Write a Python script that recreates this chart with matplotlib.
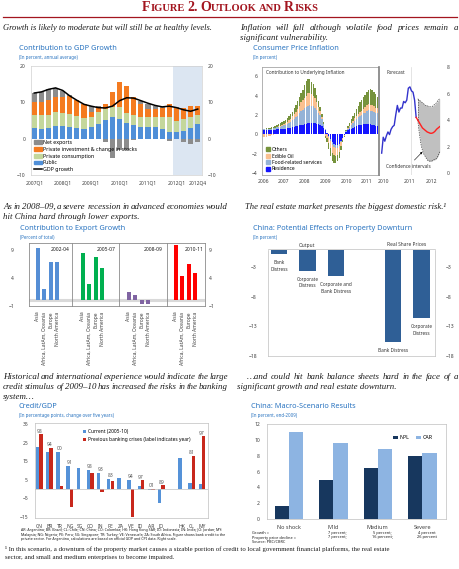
import matplotlib
matplotlib.use("Agg")
import matplotlib.pyplot as plt
import numpy as np
from matplotlib.patches import Patch
from matplotlib.lines import Line2D

# ---------------- data ----------------
# Contribution to GDP growth (2007Q1 .. 2012Q4)
gdp_public = [2.9, 2.7, 3.0, 3.5, 3.5, 3.3, 3.0, 2.7, 3.4, 4.2, 5.2, 5.9,
              5.5, 4.5, 3.8, 3.4, 3.4, 3.2, 2.7, 1.8, 1.8, 2.3, 3.1, 4.1]
gdp_consumption = [3.6, 3.8, 3.5, 3.8, 3.7, 3.5, 3.4, 3.1, 2.5, 3.2, 3.0, 2.9,
                   3.3, 2.7, 2.7, 2.7, 2.7, 2.9, 3.4, 4.3, 3.2, 3.2, 3.0, 2.6]
gdp_investment = [3.7, 3.7, 4.3, 4.2, 4.3, 4.9, 4.2, 3.7, 1.4, 1.2, 1.3, 4.1,
                  6.7, 7.3, 5.0, 3.4, 2.0, 2.0, 2.5, 3.4, 3.6, 2.9, 2.9, 2.3]
gdp_net_exports = [2.4, 2.7, 3.0, 2.6, 1.7, 0.3, 0.0, 0.0, 1.7, 0.5, -0.9, -5.3,
                   -3.0, -3.0, -0.3, 1.0, 1.4, 0.9, 0.3, -0.5, 0.2, -0.8, -1.5, -0.8]
gdp_growth = [12.6, 12.9, 13.6, 14.0, 13.3, 11.8, 10.6, 9.5, 9.0, 8.6, 8.5, 9.0,
              10.5, 11.3, 11.2, 10.5, 9.8, 9.2, 8.8, 9.0, 8.6, 8.0, 7.6, 8.2]
gdp_ticks = {0: "2007Q1", 4: "2008Q1", 8: "2009Q1", 12: "2010Q1",
             16: "2011Q1", 20: "2012Q1", 23: "2012Q4"}

# Contribution to underlying inflation, monthly Jan 2006 .. Jul 2011
cpi_residence = [0.4, 0.4, 0.4, 0.4, 0.4, 0.4, 0.45, 0.45, 0.5, 0.5, 0.5, 0.55,
                 0.6, 0.6, 0.65, 0.7, 0.7, 0.75, 0.8, 0.85, 0.9, 0.95, 1.0, 1.0,
                 1.1, 1.1, 1.15, 1.2, 1.2, 1.2, 1.15, 1.1, 1.05, 1.0, 0.9, 0.7,
                 0.4, 0.1, -0.2, -0.5, -0.8, -1.0, -1.1, -1.1, -1.0, -0.7, -0.4, -0.1,
                 0.2, 0.4, 0.5, 0.6, 0.7, 0.8, 0.9, 0.95, 1.0, 1.0, 1.05, 1.05,
                 1.1, 1.1, 1.05, 1.0, 0.95, 0.9, 0.9]
cpi_food_services = [0.1, 0.1, 0.15, 0.15, 0.15, 0.2, 0.2, 0.2, 0.25, 0.25, 0.3, 0.3,
                     0.35, 0.4, 0.45, 0.5, 0.6, 0.7, 0.8, 0.9, 1.0, 1.2, 1.4, 1.5,
                     1.6, 1.7, 1.8, 1.8, 1.75, 1.7, 1.6, 1.4, 1.2, 1.0, 0.7, 0.4,
                     0.2, 0.0, -0.1, -0.2, -0.3, -0.3, -0.3, -0.3, -0.2, -0.1, 0.0, 0.05,
                     0.1, 0.2, 0.3, 0.4, 0.5, 0.6, 0.7, 0.8, 0.9, 1.0, 1.1, 1.2,
                     1.3, 1.4, 1.4, 1.4, 1.4, 1.35, 1.3]
cpi_edible_oil = [-0.3, -0.3, -0.25, -0.2, -0.15, -0.1, -0.05, 0.0, 0.05, 0.1, 0.1, 0.15,
                  0.15, 0.2, 0.2, 0.25, 0.3, 0.4, 0.5, 0.6, 0.7, 0.8, 0.9, 1.0,
                  1.1, 1.2, 1.3, 1.3, 1.2, 1.1, 1.0, 0.8, 0.6, 0.4, 0.2, 0.0,
                  -0.2, -0.4, -0.6, -0.7, -0.8, -0.8, -0.8, -0.7, -0.6, -0.4, -0.2, -0.1,
                  0.0, 0.05, 0.1, 0.15, 0.2, 0.25, 0.3, 0.35, 0.4, 0.45, 0.5, 0.55,
                  0.6, 0.6, 0.6, 0.6, 0.55, 0.5, 0.5]
cpi_others = [0.1, 0.1, 0.1, 0.1, 0.15, 0.15, 0.15, 0.2, 0.2, 0.2, 0.25, 0.25,
              0.3, 0.3, 0.35, 0.4, 0.45, 0.5, 0.6, 0.7, 0.8, 0.9, 1.0, 1.1,
              1.3, 1.5, 1.5, 1.4, 1.3, 1.2, 1.0, 0.8, 0.6, 0.4, 0.3, 0.2,
              -0.2, -0.4, -0.6, -0.8, -0.9, -0.9, -0.8, -0.7, -0.6, -0.4, -0.2, -0.1,
              0.1, 0.2, 0.3, 0.4, 0.5, 0.6, 0.7, 0.8, 1.0, 1.1, 1.2, 1.3,
              1.4, 1.5, 1.6, 1.6, 1.5, 1.4, 1.2]
cpi_years = ["2006", "2007", "2008", "2009", "2010", "2011"]

# Headline CPI and forecast (month index from Jan 2010)
cpi_actual = [1.5, 2.7, 2.4, 2.8, 3.1, 2.9, 3.3, 3.5, 3.6, 4.4, 5.1, 4.6,
              4.9, 4.9, 5.4, 5.3, 5.5, 6.4, 6.5, 6.2, 6.1, 5.5, 4.2]
cpi_forecast = [4.2, 4.0, 3.8, 3.6, 3.4, 3.3, 3.2, 3.1, 3.05, 3.0, 3.0, 3.05,
                3.15, 3.3, 3.4, 3.5]
ci_upper = [5.6, 5.5, 5.4, 5.3, 5.2, 5.1, 5.1, 5.0, 5.0, 5.0, 5.1, 5.2, 5.3, 5.5, 5.6]
ci_lower = [4.0, 3.0, 2.2, 1.7, 1.4, 1.2, 1.0, 0.9, 0.9, 0.9, 1.0, 1.0, 1.1, 1.3, 1.6]

# Contribution to export growth
exp_regions = ["Asia", "Africa, LatAm, Oceania", "Europe", "North America"]
exp_periods = ["2002-04", "2005-07", "2008-09", "2010-11"]
exp_values = [[9.3, 2.1, 6.9, 6.8],
              [8.5, 3.0, 7.7, 5.8],
              [1.5, 1.0, -0.6, -0.6],
              [9.9, 4.4, 6.5, 4.8]]
exp_colors = ["#558ed5", "#00b050", "#8064a2", "#ff0000"]

# Property downturn effects
prop_labels = ["Bank\nDistress", "Corporate\nDistress", "Corporate and\nBank Distress",
               "Bank Distress", "Corporate\nDistress"]
prop_values = [-0.8, -3.6, -4.5, -15.6, -11.6]

# Credit/GDP
credit_countries = ["CN", "BR", "TR", "NG", "SG", "CO", "IN", "PE", "ZA", "VE",
                    "ID", "AR", "JO", "HK", "CL", "MY"]
credit_current = [22.6, 19.9, 19.9, 12.5, 11.6, 10.4, 8.9, 5.3, 5.7, 4.8,
                  1.5, -0.7, -7.8, 16.7, 3.0, 2.6]
credit_previous = [29.6, 22.1, 1.4, -9.8, np.nan, 8.4, -1.4, 4.4, np.nan, -15.4,
                   4.6, -0.7, 1.9, np.nan, 18.1, 28.4]
credit_years = ["98", "94", "00", "91", "", "98", "93", "83", "", "94",
                "97", "01", "89", "", "81", "97"]

# Macro-scenario results
scen_names = ["No shock", "Mild", "Medium", "Severe"]
scen_npl = [1.6, 4.9, 6.4, 7.9]
scen_car = [11.0, 9.6, 8.9, 8.3]
scen_growth = ["", "7 percent;", "5 percent;", "4 percent"]
scen_price = ["", "7 percent;", "16 percent;", "26 percent"]

# ---------------- layout helpers ----------------
W, H = 460, 569
fig = plt.figure(figsize=(W / 100, H / 100), dpi=100)
plt.rcParams['font.family'] = ['Noto Sans', 'DejaVu Sans']

TITLE_BLUE = "#2a74c0"
TICK = 3.6
TCOL = "#404040"
FRAME = "#a6a6a6"
BODY = dict(fontsize=6.4, style='italic', family='Liberation Serif', color='#1a1a1a')

fig.canvas.draw()
rend = fig.canvas.get_renderer()


def add_ax(x0, y0, x1, y1):
    return fig.add_axes([x0 / W, 1 - y1 / H, (x1 - x0) / W, (y1 - y0) / H])


def txt(x, y, s, **kw):
    kw.setdefault('va', 'center')
    return fig.text(x / W, 1 - y / H, s, **kw)


def body(x, y, s, **kw):
    return txt(x, y, s, **{**BODY, **kw})


def justify(x0, x1, y, s):
    # spread the words of one line between x0 and x1
    words = s.split()
    objs = [body(0, y, w_) for w_ in words]
    widths = [o.get_window_extent(rend).width for o in objs]
    gap = (x1 - x0 - sum(widths)) / (len(words) - 1)
    xpos = x0
    for o, w_ in zip(objs, widths):
        o.set_x(xpos / W)
        xpos += w_ + gap


def chart_title(x, y, title, sub):
    txt(x, y, title, fontsize=5.3, fontweight='bold', color=TITLE_BLUE)
    txt(x, y + 8, sub, fontsize=3.2, color=TITLE_BLUE)


def frame(ax, color=FRAME, lw=0.5):
    for s in ax.spines.values():
        s.set_color(color)
        s.set_linewidth(lw)


# ---------------- header ----------------
pieces = [("F", 10, 0), ("IGURE", 7.6, 2.5), ("2.", 10, 2.5), ("O", 10, 0),
          ("UTLOOK", 7.6, 2.2), ("AND", 7.6, 2.2), ("R", 10, 0), ("ISKS", 7.6, 0)]
objs = []
total = 0
for s, fs, gap in pieces:
    t = txt(0, 11, s, fontsize=fs, fontweight='bold', family='Liberation Serif',
            color='#a3151f', va='baseline')
    w = t.get_window_extent(rend).width
    objs.append((t, w, gap))
    total += w + gap
xpos = 230 - total / 2
for t, w, gap in objs:
    t.set_x(xpos / W)
    xpos += w + gap
fig.add_artist(Line2D([3 / W, 457 / W], [1 - 16.5 / H] * 2, color='#a3151f', lw=0.9))

# ---------------- panel 1: GDP contributions ----------------
body(3, 28, "Growth is likely to moderate but will still be at healthy levels.", fontsize=6.1)
chart_title(19, 49, "Contribution to GDP Growth", "(In percent, annual average)")
ax = add_ax(31, 66, 202, 175.5)
q = np.arange(len(gdp_growth))
pub = np.array(gdp_public)
con = np.array(gdp_consumption)
inv = np.array(gdp_investment)
nx = np.array(gdp_net_exports)
C_NX, C_INV, C_CON, C_PUB = "#8c8c8c", "#f47b20", "#c4d79b", "#4f8fd8"
ax.axvspan(19.5, 24, color='#dce6f2', lw=0)
bw = 0.72
ax.bar(q, pub, bw, color=C_PUB, lw=0)
ax.bar(q, con, bw, bottom=pub, color=C_CON, lw=0)
ax.bar(q, inv, bw, bottom=pub + con, color=C_INV, lw=0)
ax.bar(q, nx, bw, bottom=np.where(nx > 0, pub + con + inv, 0), color=C_NX, lw=0)
ax.plot(q, gdp_growth, color='black', lw=1.1)
ax.set_xlim(-0.46, 23.6)
ax.set_ylim(-10, 20)
ax.set_yticks([-10, 0, 10, 20])
ax.set_xticks(list(gdp_ticks.keys()))
ax.set_xticklabels(list(gdp_ticks.values()))
ax.tick_params(length=0, labelsize=TICK, labelcolor=TCOL, pad=4,
               right=True, labelright=True)
frame(ax, '#d0d0d0')
handles = [Patch(color=C_NX), Patch(color=C_INV), Patch(color=C_CON),
           Patch(color=C_PUB), Line2D([], [], color='black', lw=1.1)]
names = ["Net exports", "Private investment & change in stocks",
         "Private consumption", "Public", "GDP growth"]
ax.legend(handles, names, loc='lower left', bbox_to_anchor=(0.0, 0.0), frameon=False,
          fontsize=3.8, handlelength=1.4, handleheight=0.7, labelspacing=0.35,
          borderaxespad=0.2, handletextpad=0.2)

# ---------------- panel 2: CPI ----------------
justify(240, 458, 28, "Inflation will fall although volatile food prices remain a")
body(240, 38, "significant vulnerability.")
chart_title(253, 49, "Consumer Price Inflation", "(In percent)")
axL = add_ax(262, 67, 379, 175)
m = np.arange(len(cpi_residence))
pos = np.zeros(len(m))
neg = np.zeros(len(m))
cpi_series = [(cpi_residence, "#1414ff", "Residence"),
              (cpi_food_services, "#95b3d7", "Food-related services"),
              (cpi_edible_oil, "#fac090", "Edible Oil"),
              (cpi_others, "#76933c", "Others")]
for vals, col, lab in cpi_series:
    v = np.array(vals)
    axL.bar(m, v, 0.8, bottom=np.where(v >= 0, pos, neg), color=col, lw=0)
    pos += np.clip(v, 0, None)
    neg += np.clip(v, None, 0)
axL.set_xlim(-0.6, 67)
axL.set_ylim(-4.2, 6.95)
axL.set_yticks([-4, -2, 0, 2, 4, 6])
axL.set_xticks(np.arange(len(cpi_years)) * 12)
axL.set_xticklabels(cpi_years)
axL.tick_params(length=0, labelsize=TICK, labelcolor=TCOL, pad=3)
frame(axL, FRAME, 0.6)
axL.text(0.03, 0.95, "Contribution to Underlying Inflation", transform=axL.transAxes,
         fontsize=3.4, color='#333333', va='center')
hs = [Patch(color=c) for _, c, _ in cpi_series][::-1]
ls = [l for _, _, l in cpi_series][::-1]
axL.legend(hs, ls, loc='lower left', frameon=False, fontsize=3.6, handlelength=0.8,
           handleheight=0.8, labelspacing=0.3, borderaxespad=0.3, handletextpad=0.4)

axR = add_ax(379, 67, 440, 175)
ma = np.arange(len(cpi_actual))
mf = np.arange(len(cpi_forecast)) + len(cpi_actual) - 1
mc = np.arange(len(ci_upper)) + len(cpi_actual)
axR.axvline(19, color='#d9d9d9', lw=0.5)
axR.fill_between(mc, ci_lower, ci_upper, color='#c0c0c0', lw=0)
axR.plot(mc, ci_upper, color='#404040', lw=0.5, ls=(0, (2, 1.5)))
axR.plot(mc, ci_lower, color='#404040', lw=0.5, ls=(0, (2, 1.5)))
axR.plot([mc[0], mc[0]], [ci_lower[0], ci_upper[0]], color='#404040', lw=0.5,
         ls=(0, (2, 1.5)))
axR.plot(ma, cpi_actual, color='#3333cc', lw=1.0)
axR.plot(mf, cpi_forecast, color='#ff2020', lw=1.0)
axR.set_xlim(-1.7, 37.2)
axR.set_ylim(-0.15, 7.95)
axR.set_yticks([0, 2, 4, 6, 8])
axR.set_xticks([1, 18, 32])
axR.set_xticklabels(["2010", "2011", "2012"])
axR.yaxis.tick_right()
axR.tick_params(length=0, labelsize=TICK, labelcolor=TCOL, pad=5)
axR.tick_params(axis='x', pad=3)
for s in ['top', 'right', 'bottom']:
    axR.spines[s].set_visible(False)
axR.spines['left'].set_color('#7f7f7f')
axR.spines['left'].set_linewidth(1.2)
axR.text(0.12, 0.95, "Forecast", transform=axR.transAxes, fontsize=3.4,
         color='#333333', va='center')
axR.annotate("Confidence intervals", xy=(26, 1.6), xytext=(17, 0.5),
             fontsize=3.4, color='#333333', ha='center', va='center',
             arrowprops=dict(arrowstyle='-|>', lw=0.4, color='black',
                             mutation_scale=3, shrinkA=1, shrinkB=0))

# ---------------- panel 3: export growth ----------------
justify(3, 228, 207, "As in 2008\u201309, a severe recession in advanced economies would")
body(3, 217, "hit China hard through lower exports.")
chart_title(20, 229, "Contribution to Export Growth", "(Percent of total)")
boxes = [(29.3, 72.3, 37.7), (72.3, 119.3, 82.7), (119.3, 166.7, 129.0),
         (166.7, 205.0, 175.7)]
step = 6.45
for i, (x0, x1, first) in enumerate(boxes):
    a = add_ax(x0, 243, x1, 306)
    xs = np.arange(len(exp_regions))
    a.axhline(0, color='#d9d9d9', lw=2.2, zorder=0)
    a.bar(xs, exp_values[i], 0.62, color=exp_colors[i], lw=0, zorder=2)
    a.set_xlim((x0 - first) / step, (x1 - first) / step)
    a.set_ylim(-0.9, 10.2)
    a.set_xticks(xs)
    a.set_xticklabels(exp_regions, rotation=90, fontsize=3.4, color=TCOL)
    a.set_yticks([-1, 4, 9])
    a.tick_params(length=0, labelsize=TICK, labelcolor=TCOL)
    a.tick_params(axis='x', pad=4)
    if i == 0:
        a.tick_params(axis='y', pad=11)
    elif i == len(boxes) - 1:
        a.yaxis.tick_right()
        a.tick_params(axis='y', pad=3)
    else:
        a.set_yticklabels([])
    frame(a, '#8c8c8c', 0.6)
    a.text(0.72, 0.9, exp_periods[i], transform=a.transAxes, fontsize=3.6,
           fontweight='bold', ha='center', va='center', color='#1a1a1a')

# ---------------- panel 4: property downturn ----------------
body(245, 207, "The real estate market presents the biggest domestic risk.\u00b9", fontsize=6.2)
chart_title(253, 229, "China: Potential Effects on Property Downturn", "(In percent)")
ax4 = add_ax(268, 249.5, 435, 356)
px = np.array([0, 1, 2, 4, 5])
ax4.bar(px, prop_values, 0.58, color='#2f5f96', lw=0)
for xv, v, lab in zip(px, prop_values, prop_labels):
    ax4.text(xv, v - 1.0, lab, ha='center', va='top', fontsize=3.4,
             color='#333333', linespacing=1.4)
ax4.set_xlim(-0.39, 5.47)
ax4.set_ylim(-18, 0)
ax4.set_yticks([-18, -13, -8, -3])
ax4.set_xticks([])
ax4.tick_params(length=0, labelsize=TICK, labelcolor=TCOL, pad=8,
                right=True, labelright=True)
frame(ax4, '#bfbfbf')
txt(307, 245, "Output", fontsize=3.5, color='#333333', ha='center')
txt(407, 245, "Real Share Prices", fontsize=3.5, color='#333333', ha='center')

# ---------------- panel 5: credit/GDP ----------------
justify(3, 228, 377, "Historical and international experience would indicate the large")
justify(3, 228, 387, "credit stimulus of 2009\u201310 has increased the risks in the banking")
body(3, 397, "system\u2026")
chart_title(19, 407, "Credit/GDP", "(In percentage points, change over five years)")
ax5 = add_ax(35, 423, 208, 518)
cx = np.array(list(range(13)) + [14, 15, 16])
cur = np.array(credit_current)
prev = np.array(credit_previous)
ax5.bar(cx - 0.17, cur, 0.33, color='#5592d8', lw=0, label="Current (2005-10)")
ax5.bar(cx + 0.17, prev, 0.33, color='#c8281c', lw=0,
        label="Previous banking crises (label indicates year)")
for xv, c, p, yr in zip(cx, cur, prev, credit_years):
    if yr:
        top = max(c, 0 if np.isnan(p) else p, 0)
        ax5.text(xv, top + 0.4, yr, ha='center', va='bottom', fontsize=3.6,
                 color='#555555')
ax5.axhline(0, color='#bfbfbf', lw=0.5)
ax5.set_xlim(-0.42, 16.59)
ax5.set_ylim(-15.7, 35.7)
ax5.set_yticks([-15, -5, 5, 15, 25, 35])
ax5.set_xticks(cx)
ax5.set_xticklabels(credit_countries)
ax5.tick_params(length=0, labelsize=TICK, labelcolor=TCOL, pad=5)
ax5.tick_params(axis='x', pad=4)
frame(ax5, '#bfbfbf')
ax5.legend(loc='upper left', bbox_to_anchor=(0.25, 0.98), frameon=False, fontsize=3.5,
           handlelength=0.7, handleheight=0.7, labelspacing=0.6, handletextpad=0.4)
notes = ["AR: Argentina; BR: Brazil; CL: Chile; CN: China; CO: Colombia; HK: Hong Kong SAR; ID: Indonesia; IN: India; JO: Jordan; MY:",
         "Malaysia; NG: Nigeria; PE: Peru; SG: Singapore; TR: Turkey; VE: Venezuela; ZA: South Africa. Figure shows bank credit to the",
         "private sector. For Argentina, calculations are based on official GDP and CPI data. Right scale."]
for i, s in enumerate(notes):
    txt(21, 530 + 4.6 * i, s, fontsize=2.6, color='#1a1a1a')

# ---------------- panel 6: macro scenarios ----------------
justify(247, 458, 377, "\u2026and could hit bank balance sheets hard in the face of a")
body(237, 387, "significant growth and real estate downturn.")
chart_title(251, 407, "China: Macro-Scenario Results", "(In percent, end-2009)")
ax6 = add_ax(267, 424, 446, 519)
sx = np.arange(len(scen_names))
ax6.bar(sx - 0.16, scen_npl, 0.32, color='#17375e', lw=0, label="NPL")
ax6.bar(sx + 0.16, scen_car, 0.32, color='#8db4e2', lw=0, label="CAR")
ax6.set_xlim(-0.49, 3.53)
ax6.set_ylim(0, 12)
ax6.set_yticks(np.arange(0, 13, 2))
ax6.set_xticks(sx)
ax6.set_xticklabels(scen_names, fontsize=4.0)
ax6.tick_params(length=0, labelsize=TICK, labelcolor=TCOL, pad=5)
ax6.tick_params(axis='x', labelsize=4.0, pad=4)
frame(ax6, '#bfbfbf')
ax6.legend(loc='upper right', bbox_to_anchor=(0.95, 0.93), ncol=2, frameon=False,
           fontsize=3.8, handlelength=0.9, handleheight=0.7, handletextpad=0.3,
           columnspacing=1.2)
txt(252, 533, "Growth =", fontsize=2.8, color='#1a1a1a')
txt(252, 537.5, "Property price decline =", fontsize=2.8, color='#1a1a1a')
txt(252, 542, "Source: PBC/CBRC", fontsize=2.8, color='#1a1a1a')
for xv, g, p in zip(sx, scen_growth, scen_price):
    if g:
        ax6.text(xv + 0.1, -1.75, g, ha='center', va='center', fontsize=2.8,
                 color='#1a1a1a')
        ax6.text(xv + 0.1, -2.3, p, ha='center', va='center', fontsize=2.8,
                 color='#1a1a1a')

# ---------------- footnote ----------------
foot = dict(fontsize=4.9, family='Liberation Serif', color='#1a1a1a')
txt(5, 549, "\u00b9 In this scenario, a downturn of the property market causes a sizable portion of credit to local government financial platforms, the real estate", **foot)
txt(5, 558, "sector, and small and medium enterprises to become impaired.", **foot)

fig.savefig("out.png", dpi=100)
